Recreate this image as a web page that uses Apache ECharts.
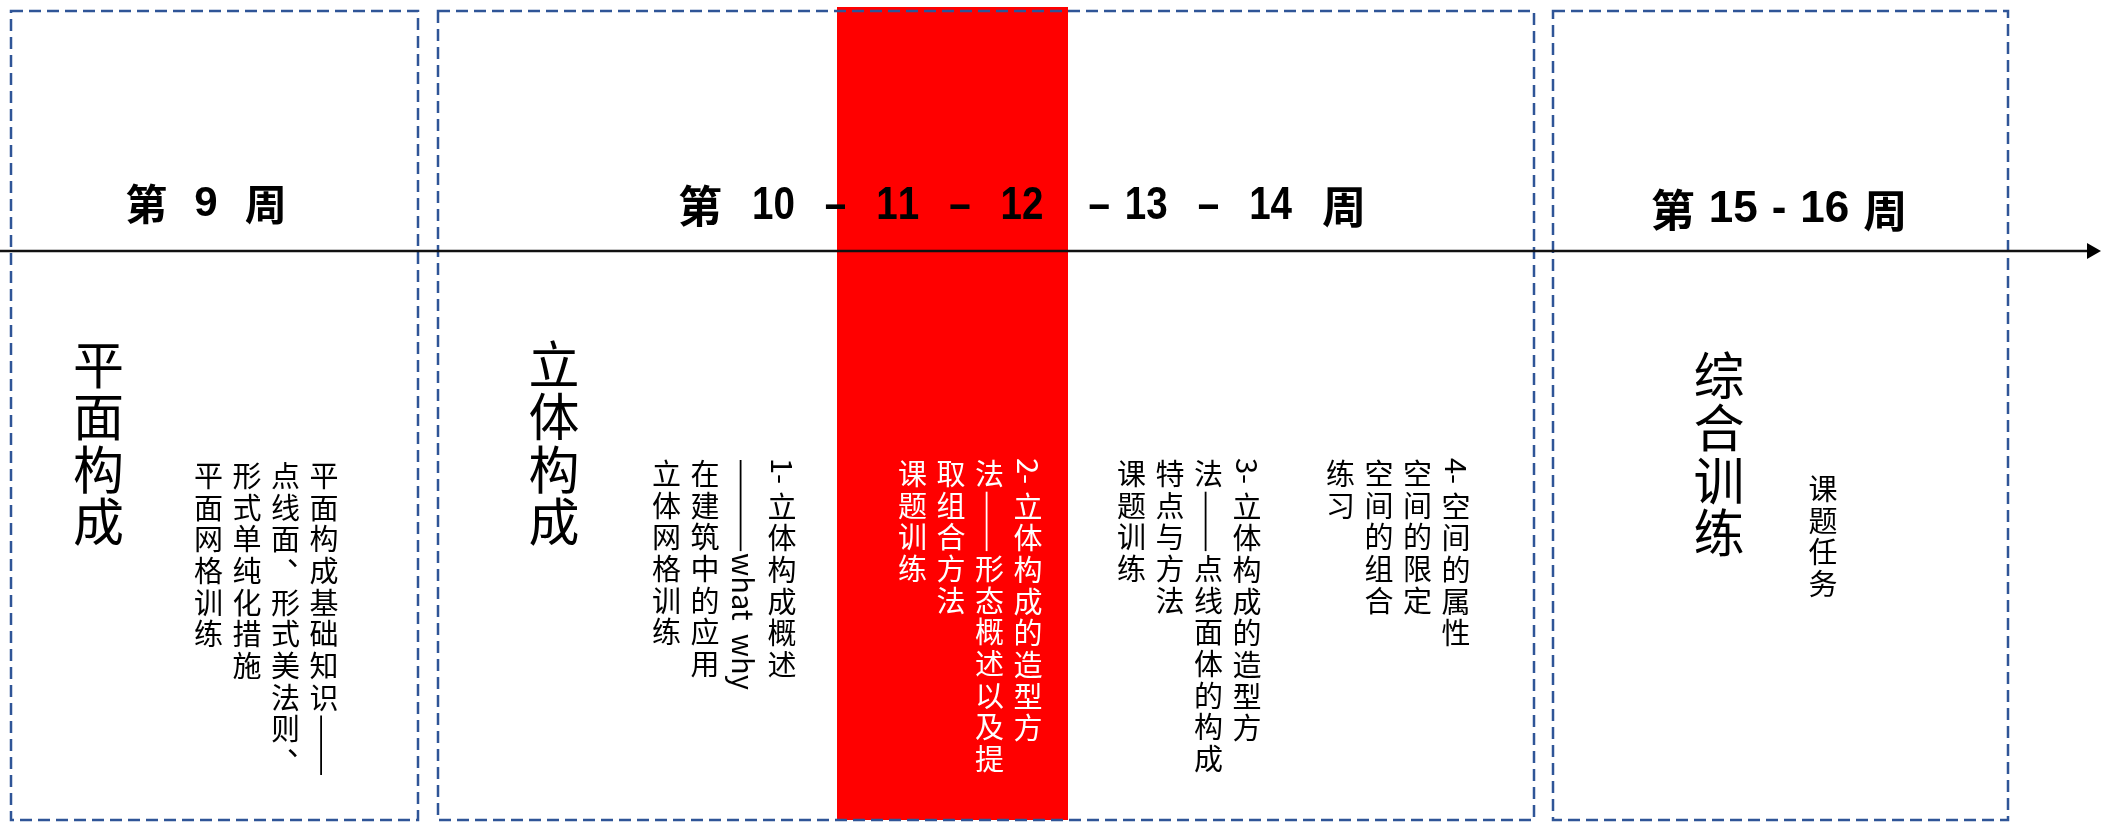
<!DOCTYPE html>
<html>
<head>
<meta charset="utf-8">
<title>课程进度安排</title>
<script src="https://cdn.jsdelivr.net/npm/echarts@6/dist/echarts.min.js"></script>
<style>
html, body { margin: 0; padding: 0; background: #fff; }
#chart { width: 2101px; height: 825px; }
</style>
</head>
<body>
<div id="chart"></div>
<script>
// 周次标题
const weekLabels = ['第 9 周', '第  10  –  11  –  12   – 13  –  14  周', '第 15 - 16 周'];
// 阶段名称
const stageTitles = ['平面构成', '立体构成', '综合训练'];
// 课题内容，每个课题一组竖排文字，列从右往左
const topicColumns = [
  ['平面构成基础知识——', '点线面、形式美法则、', '形式单纯化措施', '平面网格训练'],
  ['1- 立体构成概述', '———what  why', '在建筑中的应用', '立体网格训练'],
  ['2- 立体构成的造型方', '法——形态概述以及提', '取组合方法', '课题训练'],
  ['3- 立体构成的造型方', '法——点线面体的构成', '特点与方法', '课题训练'],
  ['4- 空间的属性', '空间的限定', '空间的组合', '练习'],
  ['课题任务']
];
// 当前课题（红色高亮）
const highlightTopic = 2;

// ---- 版面（画布坐标，隐藏坐标轴 0..W / 0..H） ----
const W = 2101, H = 825;
const boxX = [[11, 418], [438, 1534], [1553, 2008]];
const boxY = [11, 820];
const bandRect = [837, 1068, 7, 820];
const axisY = 251;
const headerPos = [[206, 204], [1022, 206], [1779, 210]];
const headerStyle = [
  { cjk: 42, num: 42, scale: 1, gap: 27 },
  { cjk: 44, num: 47, scale: 0.82, gap: 15 },
  { cjk: 44, num: 44, scale: 1, gap: 14 }
];
const titlePos = [[98.5, 338], [554, 338], [1719, 349]];
const topicPos = [[324, 460], [782, 458], [1028, 458], [1247, 458], [1456, 458], [1823, 473]];
const colStep = 38.5;

const CJK = '"Noto Sans CJK SC", "Microsoft YaHei", sans-serif';
const LATIN = '"Liberation Sans", Arial, sans-serif';
const ctx = document.createElement('canvas').getContext('2d');
function textWidth(str, font) {
  ctx.font = font;
  return ctx.measureText(str).width;
}
function isUpright(ch) {
  return /[\u3000-\u303f\u3400-\u9fff\uff00-\uffef]/.test(ch);
}

// 竖排：汉字直立，西文/数字顺时针旋转，破折号画成竖线，顿号移到右上
function verticalText(str, x, y0, size, pitch, color) {
  const font = 'normal ' + size + 'px ' + CJK;
  const els = [];
  let y = y0;
  let i = 0;
  while (i < str.length) {
    const ch = str[i];
    if (ch === '—') {
      let n = 0;
      while (str[i] === '—') { n++; i++; }
      els.push({
        type: 'line',
        shape: { x1: x - size * 0.1, y1: y + 2, x2: x - size * 0.1, y2: y + n * pitch - 2 },
        style: { stroke: color, lineWidth: 1.8 }
      });
      y += n * pitch;
    } else if (isUpright(ch)) {
      const punct = ch === '、' || ch === '，' || ch === '。';
      els.push({
        type: 'text',
        x: x + (punct ? size * 0.55 : 0),
        y: y + pitch / 2 - (punct ? size * 0.55 : 0),
        style: { text: ch, font: font, fill: color, align: 'center', verticalAlign: 'middle' }
      });
      y += pitch;
      i++;
    } else {
      let run = '';
      while (i < str.length && str[i] !== '—' && !isUpright(str[i])) run += str[i++];
      const w = textWidth(run, font);
      els.push({
        type: 'text', x: x, y: y + w / 2, rotation: -Math.PI / 2,
        style: { text: run, font: font, fill: color, align: 'center', verticalAlign: 'middle' }
      });
      y += w;
    }
  }
  return els;
}

// 横排周次：汉字与数字分开排，数字可压窄
function headerText(label, cx, cy, hs) {
  const cjkFont = 'bold ' + hs.cjk + 'px ' + CJK;
  const numFont = 'bold ' + hs.num + 'px ' + LATIN;
  const parts = [];
  let w = 0;
  label.split('').forEach(function (ch) {
    if (ch === ' ') { w += hs.gap; return; }
    const up = isUpright(ch);
    const font = up ? cjkFont : numFont;
    const sx = up ? 1 : hs.scale;
    parts.push({ ch: ch, font: font, sx: sx, x: w });
    w += textWidth(ch, font) * sx;
  });
  const x0 = cx - w / 2;
  return parts.map(function (p) {
    return {
      type: 'text', x: x0 + p.x, y: cy, scaleX: p.sx,
      style: { text: p.ch, font: p.font, fill: '#000', align: 'left', verticalAlign: 'middle' }
    };
  });
}

const chart = echarts.init(document.getElementById('chart'));

const option = {
  animation: false,
  grid: { left: 0, right: 0, top: 0, bottom: 0 },
  xAxis: { type: 'value', min: 0, max: W, show: false },
  yAxis: { type: 'value', min: 0, max: H, inverse: true, show: false },
  series: [
    {
      // 红色高亮
      type: 'custom', z: 1, silent: true,
      data: [[bandRect[0], bandRect[1], bandRect[2], bandRect[3]]],
      renderItem: function (params, api) {
        const p0 = api.coord([api.value(0), api.value(2)]);
        const p1 = api.coord([api.value(1), api.value(3)]);
        return {
          type: 'rect',
          shape: { x: p0[0], y: p0[1], width: p1[0] - p0[0], height: p1[1] - p0[1] },
          style: { fill: '#FF0000' }
        };
      }
    },
    {
      // 虚线框
      type: 'custom', z: 2, silent: true,
      data: boxX.map(function (b) { return [b[0], b[1]]; }),
      renderItem: function (params, api) {
        const p0 = api.coord([api.value(0), boxY[0]]);
        const p1 = api.coord([api.value(1), boxY[1]]);
        return {
          type: 'rect',
          shape: { x: p0[0], y: p0[1], width: p1[0] - p0[0], height: p1[1] - p0[1] },
          style: { fill: 'none', stroke: '#2F5597', lineWidth: 2.5, lineDash: [12, 6] }
        };
      }
    },
    {
      // 时间轴箭头
      type: 'custom', z: 3, silent: true,
      data: [[0, W]],
      renderItem: function (params, api) {
        const a = api.coord([api.value(0), axisY]);
        const b = api.coord([api.value(1), axisY]);
        return {
          type: 'group',
          children: [
            { type: 'line', shape: { x1: a[0], y1: a[1], x2: b[0] - 12, y2: b[1] },
              style: { stroke: '#111', lineWidth: 2.5 } },
            { type: 'polygon', shape: { points: [[b[0], b[1]], [b[0] - 14, b[1] - 8], [b[0] - 14, b[1] + 8]] },
              style: { fill: '#000' } }
          ]
        };
      }
    },
    {
      // 周次标题
      type: 'custom', z: 4, silent: true,
      data: weekLabels.map(function (_, i) { return [i]; }),
      renderItem: function (params, api) {
        const i = api.value(0);
        const p = api.coord(headerPos[i]);
        return { type: 'group', children: headerText(weekLabels[i], p[0], p[1], headerStyle[i]) };
      }
    },
    {
      // 阶段名称
      type: 'custom', z: 4, silent: true,
      data: stageTitles.map(function (_, i) { return [i]; }),
      renderItem: function (params, api) {
        const i = api.value(0);
        const p = api.coord(titlePos[i]);
        return { type: 'group', children: verticalText(stageTitles[i], p[0], p[1], 51, 52.5, '#000') };
      }
    },
    {
      // 课题内容
      type: 'custom', z: 4, silent: true,
      data: topicColumns.map(function (_, i) { return [i]; }),
      renderItem: function (params, api) {
        const i = api.value(0);
        const color = i === highlightTopic ? '#fff' : '#000';
        let children = [];
        topicColumns[i].forEach(function (col, j) {
          const p = api.coord([topicPos[i][0] - j * colStep, topicPos[i][1]]);
          children = children.concat(verticalText(col, p[0], p[1], 29, 31.7, color));
        });
        return { type: 'group', children: children };
      }
    }
  ]
};

chart.setOption(option);
window.addEventListener('resize', function () { chart.resize(); });
</script>
</body>
</html>
